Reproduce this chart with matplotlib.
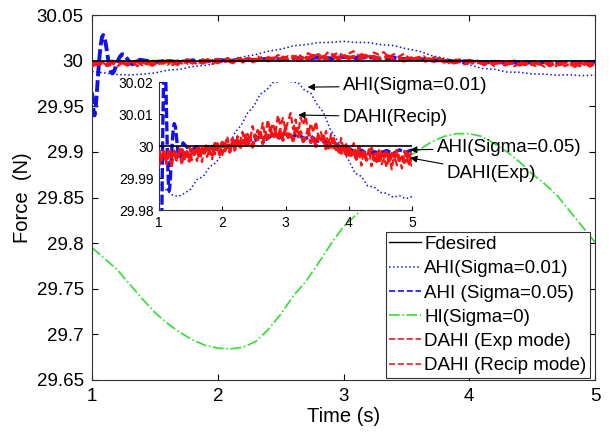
import numpy as np
import matplotlib
matplotlib.use('Agg')
import matplotlib.pyplot as plt
from matplotlib.lines import Line2D

plt.rcParams['font.family'] = ['Liberation Sans', 'DejaVu Sans']

# ---- data (force in N, time in s) ----
F_DESIRED = 30.0

# coarse time base (0.1 s) for the smooth curves
t_coarse = np.linspace(1.0, 5.0, 41)

ahi_001 = [29.988, 29.9865, 29.9848, 29.9842, 29.9852, 29.9865, 29.9895, 29.9905, 29.9935, 29.9948,
           29.9975, 29.9998, 30.0042, 30.0065, 30.0103, 30.0125, 30.0162, 30.0175, 30.0198, 30.0200,
           30.0212, 30.0200, 30.0198, 30.0175, 30.0165, 30.0130, 30.0105, 30.0055, 30.0025, 29.9985,
           29.9955, 29.9915, 29.9905, 29.9875, 29.9872, 29.9855, 29.9852, 29.9840, 29.9845, 29.9835,
           29.9842]

hi_0 = [29.795, 29.783, 29.771, 29.755, 29.739, 29.724, 29.712, 29.702, 29.694, 29.688,
        29.685, 29.684, 29.686, 29.692, 29.705, 29.722, 29.742, 29.758, 29.778, 29.799,
        29.818, 29.831, 29.844, 29.862, 29.879, 29.893, 29.902, 29.911, 29.917, 29.920,
        29.920, 29.917, 29.909, 29.900, 29.889, 29.876, 29.865, 29.852, 29.835, 29.818,
        29.801]

# AHI (Sigma=0.05): dense start for the transient, deviation from 30 N in mN
t_ahi005 = [1.00, 1.01, 1.02, 1.03, 1.04, 1.05, 1.06, 1.07, 1.08, 1.09, 1.10, 1.11, 1.12, 1.13,
            1.14, 1.15, 1.16, 1.17, 1.18, 1.19, 1.20, 1.22, 1.24, 1.26, 1.28, 1.30, 1.32, 1.34,
            1.36, 1.38, 1.40, 1.5, 1.6, 1.7, 1.8, 1.9, 2.0, 2.1, 2.2, 2.3, 2.4, 2.5, 2.6, 2.7,
            2.8, 2.9, 3.0, 3.1, 3.2, 3.3, 3.4, 3.5, 3.6, 3.7, 3.8, 3.9, 4.0, 4.1, 4.2, 4.3, 4.4,
            4.5, 4.6, 4.7, 4.8, 4.9, 5.0]
ahi_005_dev = [-35, -52, -60, -50, -32, -12, 5, 18, 26, 28, 25, 18, 9, 0,
               -7, -12, -14, -13, -10, -6, -2, 4, 7, 6, 2, -2, -4, -3,
               -1, 1, 0.5, -1.5, -0.2, -1.8, 0.3, -1.0, 0.8, -0.3, 1.5, 0.6, 2.2, 1.4, 3.0, 2.1,
               3.6, 2.5, 4.0, 2.8, 3.7, 2.2, 3.1, 1.5, 1.8, 0.2, 0.6, -1.2, -0.6, -2.0, -1.3, -2.6, -1.8,
               -2.2, -1.4, -2.4, -1.2, -2.0, -1.2]

# DAHI curves sampled every 0.04 s, deviation from 30 N in mN
t_fine = np.linspace(1.0, 5.0, 101)
dahi_exp_dev = [-1.4, -4.2, -2.5, -4.9, -0.9, -3.4, -1.6, -4.4, -2.5, -0.5,
                -4.0, -1.8, -4.7, -1.1, -2.5, -0.3, -3.8, -0.8, -2.2, 0.7,
                -2.3, -0.5, -2.4, 0.7, -2.7, 1.1, -1.5, 0.3, -1.9, 2.2,
                -0.1, 1.8, -0.8, 1.3, 3.4, 0.1, 2.4, -0.3, 3.4, 2.0,
                4.3, 0.8, 3.8, 2.3, 5.3, 2.4, 4.1, 2.1, 5.2, 1.8,
                5.6, 2.7, 4.2, 1.7, 5.5, 2.9, 4.4, 1.4, 3.1, 4.8,
                1.1, 3.0, -0.1, 3.2, 1.3, 3.1, -0.8, 1.7, -0.3, 2.3,
                -1.1, 0.2, -2.2, 0.5, -3.3, 0.1, -2.9, -1.5, -4.0, -0.3,
                -3.0, -1.4, -4.4, -2.6, -0.8, -4.4, -2.3, -5.3, -1.8, -3.5,
                -1.4, -5.2, -2.4, -4.1, -1.4, -4.5, -2.9, -5.1, -2.1, -5.6,
                -1.9]
dahi_recip_dev = [-6.4, -3.6, -0.9, -5.8, -2.7, -6.7, -1.7, -3.9, -0.9, -6.0,
                  -1.9, -4.2, -0.2, -4.4, -2.0, -4.7, -0.3, -5.0, 0.3, -3.4,
                  -0.9, -4.1, 1.6, -1.7, 0.8, -2.9, 0.1, 3.0, -1.6, 1.7,
                  -2.1, 3.1, 1.2, 4.4, -0.5, 3.8, 1.9, 6.2, 2.4, 5.0,
                  2.6, 7.2, 2.8, 8.2, 4.6, 7.1, 3.9, 9.6, 6.3, 8.8,
                  5.1, 7.7, 10.3, 5.3, 8.3, 4.1, 8.9, 6.6, 9.3, 3.6,
                  7.1, 4.2, 7.6, 2.8, 4.4, 1.0, 4.7, -0.8, 3.8, -0.7,
                  1.1, -2.6, 2.5, -1.3, 0.6, -3.7, -1.3, 0.9, -4.3, -1.7,
                  -6.1, -1.4, -3.7, -1.0, -6.3, -2.5, -5.0, -1.3, -5.7, -3.7,
                  -6.7, -2.5, -7.3, -2.2, -6.0, -3.7, -7.0, -1.5, -4.9, -2.6,
                  -6.4]

ahi_005 = F_DESIRED + np.array(ahi_005_dev) * 1e-3
dahi_exp = F_DESIRED + np.array(dahi_exp_dev) * 1e-3
dahi_recip = F_DESIRED + np.array(dahi_recip_dev) * 1e-3

x_ticks = [1, 2, 3, 4, 5]
y_ticks = [29.65, 29.7, 29.75, 29.8, 29.85, 29.9, 29.95, 30, 30.05]
y_tick_labels = ['29.65', '29.7', '29.75', '29.8', '29.85', '29.9', '29.95', '30', '30.05']
yin_ticks = [29.98, 29.99, 30, 30.01, 30.02]
yin_tick_labels = ['29.98', '29.99', '30', '30.01', '30.02']
legend_labels = ['Fdesired', 'AHI(Sigma=0.01)', 'AHI (Sigma=0.05)', 'HI(Sigma=0)',
                 'DAHI (Exp mode)', 'DAHI (Recip mode)']

BLUE = '#1010f0'
GREEN = '#33dd33'
RED = '#ff1010'


def draw_curves(ax, thick=2.8):
    ax.plot(t_coarse, ahi_001, color=BLUE, ls=':', lw=1.1, zorder=2)
    ax.plot(t_ahi005, ahi_005, color=BLUE, ls='--', lw=thick, dashes=(3, 1), zorder=2)
    ax.plot(t_coarse, hi_0, color=GREEN, ls='-.', lw=1.2, zorder=2)
    ax.plot(t_fine, dahi_exp, color=RED, ls='--', lw=thick, dashes=(3, 0.8), zorder=3)
    ax.plot(t_fine, dahi_recip, color=RED, ls='--', lw=1.6, dashes=(3, 1.5), zorder=3)
    ax.plot([1, 5], [F_DESIRED, F_DESIRED], color='black', lw=1.2, zorder=5)


fig = plt.figure(figsize=(6.09, 4.37), dpi=100)
ax = fig.add_axes([92 / 609, 1 - 380 / 437, 503 / 609, 365 / 437])
draw_curves(ax)
ax.set_xlim(1, 5)
ax.set_ylim(29.65, 30.05)
ax.set_xticks(x_ticks)
ax.set_yticks(y_ticks)
ax.set_yticklabels(y_tick_labels)
ax.tick_params(direction='in', length=4, width=0.8, labelsize=13.5, top=True, right=True, pad=6)
for s in ax.spines.values():
    s.set_linewidth(0.8)
    s.set_color('#333333')
ax.set_xlabel('Time (s)', fontsize=14.5, labelpad=1)
ax.set_ylabel('Force  (N)', fontsize=14.5, labelpad=3)

leg_handles = [Line2D([], [], color='black', lw=1),
               Line2D([], [], color=BLUE, ls=':', lw=1.1),
               Line2D([], [], color=BLUE, ls='--', lw=1.2),
               Line2D([], [], color=GREEN, ls='-.', lw=1.2),
               Line2D([], [], color='#e0202a', ls='--', lw=1.2),
               Line2D([], [], color='#e0202a', ls='--', lw=1.2)]
leg = ax.legend(leg_handles, legend_labels, loc='lower right',
                bbox_to_anchor=(590 / 609, 1 - 378 / 437),
                bbox_transform=fig.transFigure, fontsize=13.5, frameon=True, fancybox=False,
                edgecolor='#333333', framealpha=1, borderpad=0.2, borderaxespad=0,
                handlelength=1.7, handletextpad=0.15, labelspacing=0.38)
leg.get_frame().set_linewidth(0.8)

# inset zoom
axin = fig.add_axes([159 / 609, 1 - 210 / 437, 253 / 609, 128 / 437])
axin.set_facecolor('white')
draw_curves(axin, thick=2.4)
axin.set_xlim(1, 5)
axin.set_ylim(29.98, 30.02)
axin.set_xticks(x_ticks)
axin.set_yticks(yin_ticks)
axin.set_yticklabels(yin_tick_labels)
axin.tick_params(direction='in', length=3, width=0.8, labelsize=10, pad=4)
axin.spines['top'].set_visible(False)
axin.spines['right'].set_visible(False)
for s in ['left', 'bottom']:
    axin.spines[s].set_linewidth(0.8)
    axin.spines[s].set_color('#333333')

arrow = dict(arrowstyle='-|>', color='black', lw=0.8, mutation_scale=10, shrinkA=1, shrinkB=0)
notes = [('AHI(Sigma=0.01)', (3.35, 30.0184), (343, 86)),
         ('DAHI(Recip)', (3.2, 30.0097), (343, 117)),
         ('AHI(Sigma=0.05)', (4.97, 29.9988), (437, 148)),
         ('DAHI(Exp)', (4.97, 29.9963), (447, 173))]
for txt, xy, (px, py) in notes:
    axin.annotate(txt, xy=xy, xycoords='data', xytext=(px / 609, 1 - py / 437),
                  textcoords='figure fraction', ha='left', va='center', fontsize=13.5,
                  arrowprops=arrow, annotation_clip=False)

fig.savefig('out.png', dpi=100)
